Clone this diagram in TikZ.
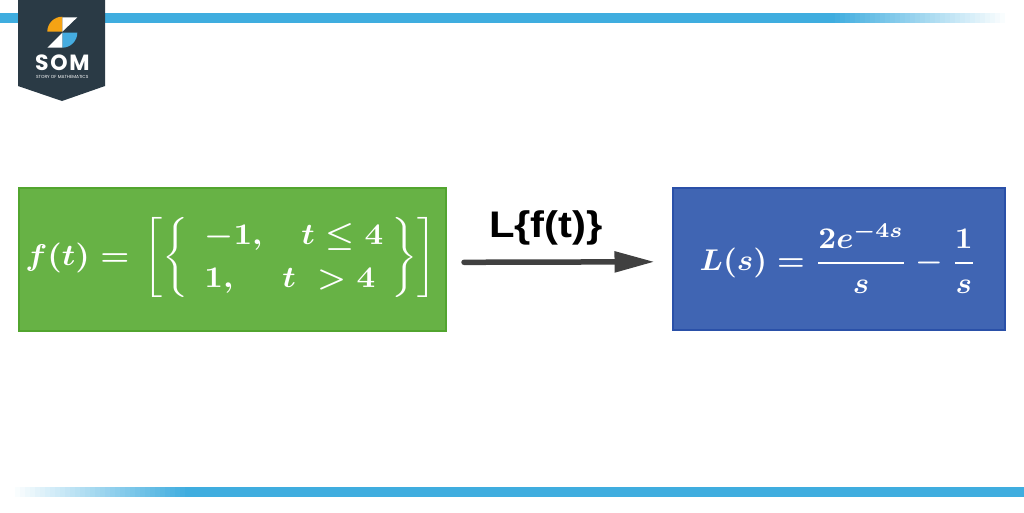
\documentclass[tikz,border=0pt]{standalone}
\usepackage{amsmath}
\usepackage{fontspec}
\newfontfamily\labelfont{Liberation Sans}
\newfontfamily\logofont{Poppins}
\usetikzlibrary{arrows.meta}
\definecolor{barblue}{HTML}{3FADDF}
\definecolor{shield}{HTML}{2A3A45}
\definecolor{logoorange}{HTML}{F5A314}
\definecolor{logoblue}{HTML}{45ACE0}
\definecolor{greenfill}{HTML}{67B245}
\definecolor{greenedge}{HTML}{52A52F}
\definecolor{bluefill}{HTML}{4065B3}
\definecolor{blueedge}{HTML}{2A50A8}
\definecolor{arrowgrey}{HTML}{404040}
\renewcommand{\arraystretch}{1.2}
\setlength{\arraycolsep}{0pt}
\newcommand{\sqdelim}[1]{\vcenter{\hbox{\scalebox{1}[.89]{$\Bigg#1$}}}}
\tikzset{
  box/.style={draw=#1edge,fill=#1fill,line width=2pt,inner sep=0pt,anchor=north west},
  formula/.style={text=white,inner sep=0pt,xscale=#1,yscale=3},
  bar/.style={fill=barblue,draw=none},
  connector/.style={draw=arrowgrey,line width=5.5pt,line cap=round,-{Triangle[length=40pt,width=20pt]}},
}
\begin{document}
\begin{tikzpicture}[x=1pt,y=-1pt]
\useasboundingbox[fill=white] (0,0) rectangle (1024,512);
% bars
\fill[bar] (0,13) rectangle (830,23);
\foreach \i in {0,...,35}{
  \pgfmathsetmacro{\p}{100-\i*100/35}
  \fill[barblue!\p!white] (830+\i*5,13) rectangle (835.3+\i*5,23);
  \fill[barblue!\p!white] (190-\i*5,487) rectangle (184.7-\i*5,497);
}
\fill[bar] (190,487) rectangle (1024,497);
% shield
\fill[shield] (18,0) -- (105,0) -- (105,86) -- (62,101) -- (18,86) -- cycle;
\fill[logoorange] (62.3,31.7) -- (47.3,31.7) arc[start angle=180,end angle=90,radius=15,y radius=-15] -- cycle;
\fill[white] (62.3,17.3) -- (77.3,17.3) -- (62.3,31.7) -- cycle;
\fill[logoblue] (62.3,32.7) -- (77.3,32.7) arc[start angle=0,end angle=-90,radius=15,y radius=-15] -- cycle;
\fill[white] (62.3,32.7) -- (62.3,47.7) -- (47.3,47.7) -- cycle;
\node[inner sep=0pt,text=white] (som) at (62.3,63) {\logofont\fontsize{22}{22}\selectfont\bfseries\addfontfeature{LetterSpace=8}SOM};
\node[inner sep=0pt,text=white] (story) at (62.3,77) {\logofont\fontsize{4.4}{4.4}\selectfont STORY OF MATHEMATICS};
% boxes
\node[box=green,minimum width=427pt,minimum height=143pt] (fbox) at (18,186.8) {};
\node[box=blue,minimum width=332pt,minimum height=142pt] (lbox) at (671.5,186.8) {};
% formulas
\node[formula=3.25] (fml) at (231,257.5) {{\boldmath$f(t)=\hspace{1pt}\sqdelim[\sqdelim\{\begin{array}{l}\hspace{5pt}\rlap{$-1,$}\hspace{29.8pt}t\leq 4\hspace{2.5pt}\\ \hspace{5pt}\rlap{$1,$}\hspace{24pt}t\ >4\end{array}\sqdelim\}\sqdelim]$}};
\node[formula=3.1] (lml) at (838,258) {{\boldmath$L(s)=\dfrac{2e^{-4s}}{s}-\dfrac{1}{s}$}};
% connector
\draw[connector] ([shift={(17,3)}]fbox.east) -- ([shift={(-17,3)}]lbox.west);
\node[inner sep=0pt,xscale=1.13,font=\labelfont\bfseries\fontsize{37}{37}\selectfont] (lab) at (546,228) {L\{f(t)\}};
\end{tikzpicture}
\end{document}
